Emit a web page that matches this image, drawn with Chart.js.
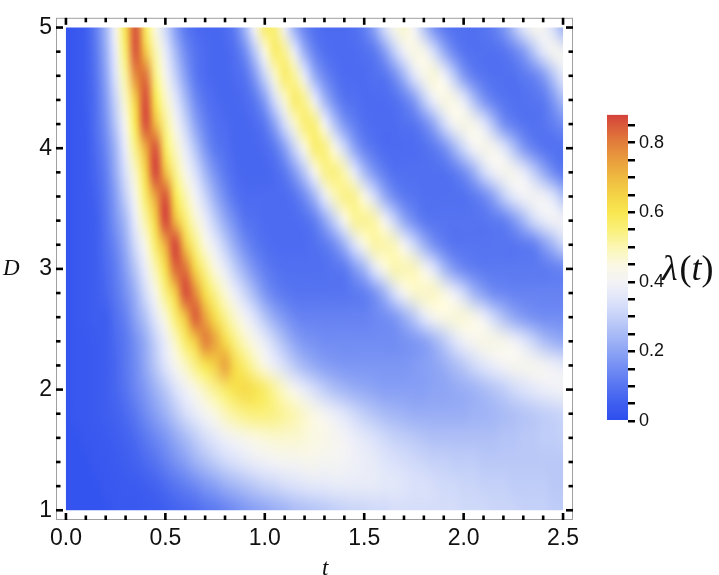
<!DOCTYPE html>
<html>
<head>
<meta charset="utf-8">
<title>lambda(t) density plot</title>
<script src="https://cdn.jsdelivr.net/npm/chart.js@4.4.1/dist/chart.umd.min.js"></script>
<style>
  html, body { margin: 0; padding: 0; background: #fff; }
  #wrap { position: relative; width: 719px; height: 575px; }
  #main { position: absolute; left: 0; top: 0; }
  #bar { position: absolute; left: 590px; top: 100px; }
</style>
</head>
<body>
<div id="wrap">
  <canvas id="main" width="719" height="575"></canvas>
  <canvas id="bar" width="129" height="340"></canvas>
</div>
<script>
// grid of the density plot: t along x, D along y (top row first)
const tValues = [0, 0.05, 0.1, 0.15, 0.2, 0.25, 0.3, 0.35, 0.4, 0.45, 0.5, 0.55, 0.6, 0.65, 0.7, 0.75, 0.8, 0.85, 0.9, 0.95,
  1, 1.05, 1.1, 1.15, 1.2, 1.25, 1.3, 1.35, 1.4, 1.45, 1.5, 1.55, 1.6, 1.65, 1.7, 1.75, 1.8, 1.85, 1.9, 1.95,
  2, 2.05, 2.1, 2.15, 2.2, 2.25, 2.3, 2.35, 2.4, 2.45, 2.5];
const dValues = [5, 4.8, 4.6, 4.4, 4.2, 4, 3.8, 3.6, 3.4, 3.2, 3, 2.8, 2.6, 2.4, 2.2, 2, 1.8, 1.6, 1.4, 1.2, 1];

// lambda(t), in hundredths, one row per D value
const lambdaRows = [
  [2,3,5,12,24,42,62,86,58,45, 32,19,11,8,7,7,8,12,24,42, 57,55,38,22,13,9,8,8,8,9, 12,20,33,43,47,40,27,16,11,9, 9,9,10,12,17,26,36,42,41,33, 23],
  [2,3,5,11,22,38,57,86,67,50, 37,25,15,10,8,7,7,9,15,28, 45,57,53,37,22,13,9,8,8,8, 9,11,18,29,39,45,43,33,22,14, 10,9,9,9,10,13,18,27,36,42, 41],
  [2,3,5,10,20,35,52,78,82,54, 42,30,19,11,8,7,7,8,10,18, 31,47,57,52,37,22,14,10,8,8, 8,9,10,15,24,35,43,46,40,29, 18,12,10,9,9,9,11,13,18,27, 36],
  [2,3,5,9,18,31,48,66,87,60, 48,36,25,15,10,8,7,7,8,11, 19,33,47,57,53,38,24,15,10,9, 8,8,8,9,12,18,29,39,45,44, 37,26,17,12,10,9,9,10,11,17, 25],
  [2,3,4,9,16,28,43,60,87,70, 53,42,31,20,13,9,8,7,7,8, 11,20,33,47,56,55,41,27,17,12, 9,8,8,8,9,10,14,21,32,41, 44,43,36,26,16,12,10,9,10,12, 15],
  [2,3,4,8,14,24,38,54,72,86, 58,48,37,27,17,11,9,7,7,7, 8,11,19,31,45,56,55,45,32,20, 13,10,8,8,8,8,9,11,15,23, 32,40,43,42,36,27,18,13,10,9, 9],
  [2,3,4,7,12,22,34,48,64,88, 69,53,43,34,24,16,11,8,7,7, 7,8,11,18,28,42,53,55,50,37, 25,17,12,9,9,9,9,9,9,11, 15,22,32,39,42,42,38,30,22,15, 11],
  [2,3,4,6,11,19,30,43,57,74, 86,60,50,40,31,22,15,10,8,8, 8,8,8,10,15,24,37,49,54,53, 45,33,22,15,11,10,9,9,9,9, 9,11,14,20,29,36,40,41,40,35, 27],
  [2,3,4,5,10,17,25,38,51,65, 88,70,56,47,38,29,21,15,10,9, 8,8,8,8,9,12,20,30,43,52, 53,51,42,31,21,15,11,10,10,10, 10,10,10,11,12,17,24,32,37,40, 40],
  [2,3,4,5,9,14,22,33,44,57, 72,88,67,54,45,37,29,21,15,11, 9,8,8,8,8,9,11,15,23,34, 45,51,51,49,41,32,23,16,12,10, 10,10,10,10,10,10,11,12,18,24, 31],
  [2,3,4,5,8,12,19,28,38,50, 62,83,82,64,53,45,37,29,22,16, 12,10,9,9,9,9,9,10,11,17, 24,35,45,50,50,49,43,35,25,18, 14,12,11,11,11,11,11,11,11,12, 13],
  [2,3,4,5,7,11,16,23,33,43, 54,66,87,78,62,53,46,38,31,24, 17,13,11,10,10,10,10,10,10,11, 12,16,23,33,42,47,48,48,45,39, 32,24,19,15,14,13,13,13,13,13, 13],
  [2,3,4,5,5,9,13,20,27,36, 46,56,68,85,74,62,53,47,40,34, 27,21,17,14,13,13,13,13,13,13, 13,14,15,17,22,28,36,42,45,46, 46,44,39,32,26,21,18,16,15,15, 15],
  [2,3,3,4,5,8,11,16,22,30, 38,48,57,66,80,74,63,54,48,43, 37,31,25,20,17,16,15,15,15,15, 15,15,15,15,16,17,19,23,28,34, 39,42,44,44,43,40,36,31,26,23, 21],
  [2,3,3,4,5,7,11,15,21,28, 35,42,48,54,60,66,74,63,56,50, 44,38,33,28,24,21,19,18,17,17, 17,17,17,17,17,18,19,20,22,25, 28,32,35,38,40,42,42,42,41,39, 37],
  [2,3,3,4,5,7,10,14,18,23, 28,34,39,44,49,53,57,61,63,61, 57,52,47,42,37,33,29,26,24,22, 21,20,19,19,19,19,19,20,20,21, 22,23,25,27,29,32,34,36,38,39, 40],
  [2,3,3,4,5,6,8,11,15,19, 23,28,33,37,41,45,49,52,54,55, 55,54,52,50,47,44,41,38,35,32, 29,27,25,24,23,22,22,22,22,22, 22,23,23,24,25,26,27,28,29,30, 31],
  [2,2,3,3,4,5,6,8,11,14, 17,21,25,29,33,36,39,41,43,45, 46,47,47,47,46,45,44,42,40,38, 36,34,32,30,29,28,27,26,26,26, 26,26,26,26,27,27,28,28,29,29, 30],
  [2,2,2,3,3,4,5,6,8,10, 13,16,19,23,26,29,32,34,36,38, 39,40,41,41,42,42,41,41,40,39, 38,37,35,34,33,32,31,30,30,29, 29,29,28,28,28,28,28,28,28,28, 28],
  [2,2,2,2,3,3,4,4,5,6, 8,10,12,14,17,19,22,24,26,28, 30,31,33,34,35,36,36,37,37,37, 37,37,36,36,35,34,34,33,32,32, 31,31,30,30,30,29,29,29,29,28, 28],
  [2,2,2,2,2,3,3,3,4,4, 5,6,7,8,10,11,13,15,17,19, 20,22,23,25,26,27,28,29,30,31, 31,32,32,33,33,33,33,33,33,33, 32,32,32,31,31,31,30,30,30,29, 29]
];

// colour scale (lambda value -> rgb), blue - white - yellow - red
const cmapValues = [0, 0.05, 0.1, 0.15, 0.2, 0.25, 0.3, 0.35, 0.4, 0.45, 0.5, 0.55, 0.6, 0.65, 0.7, 0.75, 0.8, 0.85, 0.88];
const cmapColors = [
  [46,78,238], [62,94,240], [86,116,241], [113,140,243], [141,164,245], [169,187,246], [197,209,248],
  [223,229,250], [243,243,246], [250,248,226], [251,246,178], [250,240,122], [248,231,80], [244,211,70],
  [239,186,64], [233,157,61], [226,126,59], [218,90,58], [212,64,60]
];

// ticks
const xTickValues = [0, 0.1, 0.2, 0.3, 0.4, 0.5, 0.6, 0.7, 0.8, 0.9, 1, 1.1, 1.2, 1.3, 1.4, 1.5, 1.6, 1.7, 1.8, 1.9, 2, 2.1, 2.2, 2.3, 2.4, 2.5];
const xLabelValues = [0, 0.5, 1, 1.5, 2, 2.5];
const yTickValues = [1, 1.2, 1.4, 1.6, 1.8, 2, 2.2, 2.4, 2.6, 2.8, 3, 3.2, 3.4, 3.6, 3.8, 4, 4.2, 4.4, 4.6, 4.8, 5];
const yLabelValues = [1, 2, 3, 4, 5];
const cbTickValues = [0, 0.05, 0.1, 0.15, 0.2, 0.25, 0.3, 0.35, 0.4, 0.45, 0.5, 0.55, 0.6, 0.65, 0.7, 0.75, 0.8, 0.85];
const cbLabelValues = [0, 0.2, 0.4, 0.6, 0.8];
const cbMax = 0.88;

function lambdaColor(v) {
    let k = 1;
    while (k < cmapValues.length - 1 && v > cmapValues[k]) k++;
    let v0 = cmapValues[k - 1], v1 = cmapValues[k];
    let f = Math.min(1, Math.max(0, (v - v0) / (v1 - v0)));
    let c0 = cmapColors[k - 1], c1 = cmapColors[k];
    return [0, 1, 2].map(n => Math.round(c0[n] + (c1[n] - c0[n]) * f));
}

let cells = [];
dValues.forEach((d, i) => {
    tValues.forEach((t, j) => {
        cells.push({x: t, y: d, v: lambdaRows[i][j] / 100, row: i, col: j});
    });
});

// paints the grid as a smooth density image placed through the scales
let heatmapPlugin = {
    id: 'heatmap',
    beforeDatasetsDraw(chart) {
        let ctx = chart.ctx;
        let xs = chart.scales.x, ys = chart.scales.y;
        let data = chart.data.datasets[0].data;
        let nCols = tValues.length, nRows = dValues.length;
        let off = document.createElement('canvas');
        off.width = nCols;
        off.height = nRows;
        let octx = off.getContext('2d');
        let img = octx.createImageData(nCols, nRows);
        data.forEach(c => {
            let rgb = lambdaColor(c.v);
            let k = (c.row * nCols + c.col) * 4;
            img.data[k] = rgb[0];
            img.data[k + 1] = rgb[1];
            img.data[k + 2] = rgb[2];
            img.data[k + 3] = 255;
        });
        octx.putImageData(img, 0, 0);

        let dt = tValues[1] - tValues[0];
        let dd = dValues[0] - dValues[1];
        let left = xs.getPixelForValue(tValues[0] - dt / 2);
        let right = xs.getPixelForValue(tValues[nCols - 1] + dt / 2);
        let top = ys.getPixelForValue(dValues[0] + dd / 2);
        let bottom = ys.getPixelForValue(dValues[nRows - 1] - dd / 2);
        let cx0 = xs.getPixelForValue(tValues[0]), cx1 = xs.getPixelForValue(tValues[nCols - 1]);
        let cy0 = ys.getPixelForValue(dValues[0]), cy1 = ys.getPixelForValue(dValues[nRows - 1]);

        ctx.save();
        ctx.beginPath();
        ctx.rect(cx0, cy0, cx1 - cx0, cy1 - cy0);
        ctx.clip();
        ctx.imageSmoothingEnabled = true;
        ctx.imageSmoothingQuality = 'high';
        ctx.drawImage(off, left, top, right - left, bottom - top);
        ctx.restore();
    }
};

// grey frame, inward ticks on all four sides, axis names
let framePlugin = {
    id: 'frame',
    afterDraw(chart) {
        let ctx = chart.ctx;
        let a = chart.chartArea;
        let xs = chart.scales.x, ys = chart.scales.y;
        ctx.save();
        ctx.strokeStyle = '#a0a0a0';
        ctx.lineWidth = 1;
        ctx.strokeRect(a.left + 0.5, a.top + 0.5, a.right - a.left - 1, a.bottom - a.top - 1);

        ctx.fillStyle = '#000';
        xTickValues.forEach(v => {
            let px = xs.getPixelForValue(v);
            let major = Math.abs(v * 2 - Math.round(v * 2)) < 1e-6;
            let len = major ? 7 : 4.5;
            ctx.fillRect(px - 1.3, a.bottom - len, 2.6, len);
            ctx.fillRect(px - 1.3, a.top, 2.6, len);
        });
        yTickValues.forEach(v => {
            let py = ys.getPixelForValue(v);
            let major = Math.abs(v - Math.round(v)) < 1e-6;
            let len = major ? 7 : 4.5;
            ctx.fillRect(a.left, py - 1.3, len, 2.6);
            ctx.fillRect(a.right - len, py - 1.3, len, 2.6);
        });

        ctx.fillStyle = '#111';
        ctx.font = 'italic 23px "Liberation Serif"';
        ctx.textBaseline = 'alphabetic';
        ctx.textAlign = 'left';
        ctx.fillText('D', 3, 275);
        ctx.fillText('t', 322, 575);
        ctx.restore();
    }
};

let mainChart = new Chart(document.getElementById('main'), {
    type: 'scatter',
    data: {
        datasets: [{
            label: 'lambda',
            data: cells,
            pointRadius: 0,
            pointHoverRadius: 0
        }]
    },
    options: {
        responsive: false,
        devicePixelRatio: 1,
        animation: false,
        layout: { padding: { left: 0, right: 146, top: 4, bottom: 0 } },
        plugins: { legend: { display: false }, tooltip: { enabled: false } },
        scales: {
            x: {
                type: 'linear',
                min: -0.05,
                max: 2.55,
                afterBuildTicks: s => { s.ticks = xLabelValues.map(v => ({value: v})); },
                afterFit: s => { s.height = 55; },
                grid: { display: false, drawTicks: false },
                border: { display: false },
                ticks: {
                    autoSkip: false,
                    maxRotation: 0,
                    padding: 5,
                    color: '#111',
                    font: { family: 'Liberation Sans', size: 23 },
                    callback: v => Number(v).toFixed(1)
                }
            },
            y: {
                type: 'linear',
                min: 0.9194,
                max: 5.0806,
                afterBuildTicks: s => { s.ticks = yLabelValues.map(v => ({value: v})); },
                afterFit: s => { s.width = 56; },
                grid: { display: false, drawTicks: false },
                border: { display: false },
                ticks: {
                    autoSkip: false,
                    padding: 4,
                    color: '#111',
                    font: { family: 'Liberation Sans', size: 23 },
                    callback: v => String(v)
                }
            }
        }
    },
    plugins: [heatmapPlugin, framePlugin]
});

// colour bar legend with its own scale
let barLabelPlugin = {
    id: 'barLabel',
    afterDraw(chart) {
        let ctx = chart.ctx;
        ctx.save();
        ctx.fillStyle = '#111';
        ctx.textBaseline = 'middle';
        ctx.textAlign = 'left';
        let x = 72, y = 171;
        let parts = [['λ', 'italic'], ['(', 'normal'], ['t', 'italic'], [')', 'normal']];
        parts.forEach(p => {
            ctx.font = p[1] + ' 36px "Liberation Serif"';
            ctx.fillText(p[0], x, y);
            x += ctx.measureText(p[0]).width + (p[0] === 'λ' ? 2 : 0);
        });
        ctx.restore();
    }
};

let barChart = new Chart(document.getElementById('bar'), {
    type: 'bar',
    data: {
        labels: ['lambda'],
        datasets: [{
            data: [[0, cbMax]],
            borderWidth: 0,
            barPercentage: 1,
            categoryPercentage: 1,
            backgroundColor: c => {
                let a = c.chart.chartArea;
                if (!a) return '#888';
                let g = c.chart.ctx.createLinearGradient(0, a.bottom, 0, a.top);
                cmapValues.forEach((v, k) => {
                    let rgb = cmapColors[k];
                    g.addColorStop(v / cbMax, 'rgb(' + rgb.join(',') + ')');
                });
                return g;
            }
        }]
    },
    options: {
        responsive: false,
        devicePixelRatio: 1,
        animation: false,
        layout: { padding: { left: 17, right: 0, top: 13, bottom: 19 } },
        plugins: { legend: { display: false }, tooltip: { enabled: false } },
        scales: {
            x: { display: false },
            y: {
                position: 'right',
                min: 0,
                max: cbMax,
                afterBuildTicks: s => { s.ticks = cbTickValues.map(v => ({value: v})); },
                afterFit: s => { s.width = 91; },
                grid: { drawOnChartArea: false, drawTicks: true, tickLength: 7, color: '#000', lineWidth: 2.5 },
                border: { display: false },
                ticks: {
                    autoSkip: false,
                    padding: 4,
                    color: '#111',
                    font: { family: 'Liberation Sans', size: 18 },
                    callback: v => cbLabelValues.indexOf(v) >= 0 ? (v === 0 ? '0' : v.toFixed(1)) : ''
                }
            }
        }
    },
    plugins: [barLabelPlugin]
});
</script>
</body>
</html>
